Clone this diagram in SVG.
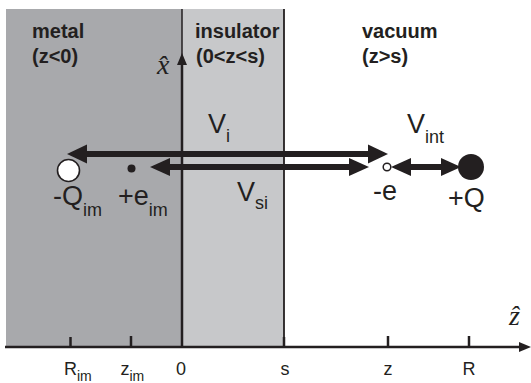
<svg xmlns="http://www.w3.org/2000/svg" width="531" height="383" viewBox="0 0 531 383">
<style>
.region{font-family:"Liberation Sans",Arial,sans-serif;font-weight:bold;font-size:20px;fill:#231f20}
.lbl{font-family:"Liberation Sans",Arial,sans-serif;font-size:27px;fill:#231f20}
.sub{font-size:18px}
.ax{font-family:"Liberation Sans",Arial,sans-serif;font-size:18px;fill:#231f20}
.axs{font-size:14px}
.hat{font-family:"Liberation Serif","Times New Roman",serif;font-style:italic;font-size:28px;fill:#231f20}
.arr{stroke:#231f20;stroke-width:6;fill:none}
.tick{stroke:#231f20;stroke-width:2.5}
</style>
<defs>
<marker id="ha" markerUnits="userSpaceOnUse" markerWidth="20" markerHeight="20" refX="0" refY="9" orient="auto-start-reverse" viewBox="0 0 19 18">
<path d="M0,0 L19,9 L0,18 z" fill="#231f20"/>
</marker>
<marker id="hb" markerUnits="userSpaceOnUse" markerWidth="20" markerHeight="20" refX="0" refY="8" orient="auto-start-reverse" viewBox="0 0 18 16">
<path d="M0,0 L18,8 L0,16 z" fill="#231f20"/>
</marker>
<marker id="hx" markerUnits="userSpaceOnUse" markerWidth="12" markerHeight="12" refX="0" refY="5" orient="auto" viewBox="0 0 12 10">
<path d="M0,0 L12,5 L0,10 z" fill="#231f20"/>
</marker>
</defs>
<g id="metal">
<rect x="6" y="9" width="176" height="338" fill="#a8a9ac"/>
<text class="region" x="32" y="38">metal</text>
<text class="region" x="32" y="63">(z&lt;0)</text>
</g>
<g id="insulator">
<rect x="182" y="9" width="102" height="338" fill="#c7c8ca"/>
<line x1="284" y1="9" x2="284" y2="347" stroke="#231f20" stroke-width="1.8"/>
<text class="region" x="195" y="38">insulator</text>
<text class="region" x="196" y="63">(0&lt;z&lt;s)</text>
</g>
<g id="vacuum">
<text class="region" x="362" y="38">vacuum</text>
<text class="region" x="362" y="63">(z&gt;s)</text>
</g>
<g id="axes">
<line x1="182" y1="9" x2="182" y2="60" stroke="#231f20" stroke-width="1.5"/>
<line x1="182" y1="347" x2="182" y2="65" stroke="#231f20" stroke-width="2.5" marker-end="url(#hx)"/>
<text class="hat" x="157" y="74">x&#770;</text>
<line x1="5" y1="347" x2="519" y2="347" stroke="#231f20" stroke-width="2.5" marker-end="url(#hx)"/>
<text class="hat" x="509" y="325">z&#770;</text>
<line class="tick" x1="70.5" y1="337" x2="70.5" y2="347"/>
<line class="tick" x1="131" y1="336" x2="131" y2="347"/>
<line class="tick" x1="284" y1="337" x2="284" y2="347"/>
<line class="tick" x1="388" y1="336" x2="388" y2="347"/>
<line class="tick" x1="469" y1="336" x2="469" y2="347"/>
<text class="ax" x="64" y="375">R<tspan class="axs" dy="6">im</tspan></text>
<text class="ax" x="120.5" y="375">z<tspan class="axs" dy="6">im</tspan></text>
<text class="ax" x="181" y="375" text-anchor="middle">0</text>
<text class="ax" x="285" y="375" text-anchor="middle">s</text>
<text class="ax" x="388" y="375" text-anchor="middle">z</text>
<text class="ax" x="469" y="375" text-anchor="middle">R</text>
</g>
<g id="connectors">
<line class="arr" x1="87" y1="154" x2="368" y2="154" marker-start="url(#ha)" marker-end="url(#ha)"/>
<line class="arr" x1="170" y1="167" x2="349" y2="167" marker-start="url(#hb)" marker-end="url(#hb)"/>
<line class="arr" x1="411" y1="167" x2="441" y2="167" marker-start="url(#hb)" marker-end="url(#hb)"/>
<text class="lbl" x="208" y="133">V<tspan class="sub" dy="9">i</tspan></text>
<text class="lbl" x="237" y="201">V<tspan class="sub" dy="8">si</tspan></text>
<text class="lbl" x="407" y="133">V<tspan class="sub" dy="10">int</tspan></text>
</g>
<g id="Qim">
<circle cx="68.5" cy="170.5" r="11" fill="#fff" stroke="#231f20" stroke-width="1.6"/>
<text class="lbl" x="53" y="205">-Q<tspan class="sub" dy="11">im</tspan></text>
</g>
<g id="eim">
<circle cx="131.5" cy="168.5" r="4" fill="#231f20"/>
<text class="lbl" x="118" y="205">+e<tspan class="sub" dy="11">im</tspan></text>
</g>
<g id="e">
<circle cx="387" cy="167" r="3.8" fill="#fff" stroke="#231f20" stroke-width="1.5"/>
<text class="lbl" x="373" y="200">-e</text>
</g>
<g id="Q">
<circle cx="471" cy="167" r="13" fill="#231f20"/>
<text class="lbl" x="448" y="207">+Q</text>
</g>
</svg>
